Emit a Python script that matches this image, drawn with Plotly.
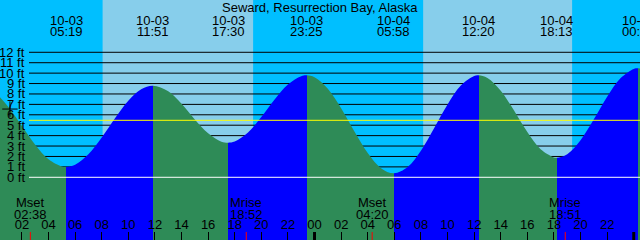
import plotly.graph_objects as go

TITLE = "Seward, Resurrection Bay, Alaska"

# Tide extremes (local time)
EXTREME_DATES = ["10-03", "10-03", "10-03", "10-03", "10-04", "10-04", "10-04", "10-05"]
EXTREME_CLOCKS = ["05:19", "11:51", "17:30", "23:25", "05:58", "12:20", "18:13", "00:21"]
EXTREME_FT = [1.0, 8.79, 3.32, 9.79, 0.38, 9.79, 1.88, 10.46]
EXTREME_KIND = ["L", "H", "L", "H", "L", "H", "L", "H"]

# Hourly tide heights (hours since 10-03 00:00)
CURVE_HOURS = list(range(0, 49)) + [48.6]
CURVE_FT = [8.17, 6.73, 4.92, 3.13, 1.73, 1.04, 1.21, 2.21, 3.82, 5.67,
            7.35, 8.47, 8.78, 8.25, 7.05, 5.56, 4.22, 3.42, 3.43, 4.29,
            5.78, 7.47, 8.92, 9.71, 9.61, 8.50, 6.62, 4.39, 2.33, 0.88,
            0.38, 0.98, 2.56, 4.74, 7.00, 8.81, 9.73, 9.54, 8.32, 6.41,
            4.34, 2.69, 1.91, 2.22, 3.56, 5.57, 7.73, 9.50, 10.40, 10.42]

# Moon events
MOON_DATES = ["10-03", "10-03", "10-04", "10-04"]
MOON_KIND = ["Mset", "Mrise", "Mset", "Mrise"]
MOON_CLOCKS = ["02:38", "18:52", "04:20", "18:51"]

# Daylight
SUN_DATES = ["10-03", "10-04"]
SUNRISE = ["08:04", "08:10"]
SUNSET = ["19:23", "19:22"]

MEAN_LEVEL_FT = 5.47
NOW_T, NOW_FT = 1.1, 6.55

Y_TICKS = list(range(0, 13))
Y_LABELS = [f"{v} ft" for v in Y_TICKS]
X_TICKS = list(range(2, 49, 2))
X_LABELS = [f"{h % 24:02d}" for h in X_TICKS]
MIDNIGHTS = [24, 48]

X_RANGE = [0.353, 48.47]
Y_RANGE = [-6.02, 17.02]

DAY0 = {"10-03": 0, "10-04": 24, "10-05": 48}


def hours(date, clock):
    hh, mm = clock.split(":")
    return DAY0[date] + int(hh) + int(mm) / 60.0


ext_t = [hours(d, c) for d, c in zip(EXTREME_DATES, EXTREME_CLOCKS)]
moon_t = [hours(d, c) for d, c in zip(MOON_DATES, MOON_CLOCKS)]
rise_t = [hours(d, c) for d, c in zip(SUN_DATES, SUNRISE)]
set_t = [hours(d, c) for d, c in zip(SUN_DATES, SUNSET)]

pts = [(t, h) for t, h in zip(CURVE_HOURS, CURVE_FT)
       if all(abs(t - e) > 0.2 for e in ext_t)]
pts += list(zip(ext_t, EXTREME_FT))
pts.sort()
xs = [p[0] for p in pts]
ys = [p[1] for p in pts]

GREEN = "#2E8B57"
BLUE = "#0000FF"
t0, t1 = xs[0], xs[-1]
scale = []
prev = 0.0
color = GREEN  # falling before first low
for t, kind in zip(ext_t, EXTREME_KIND):
    p = (t - t0) / (t1 - t0)
    scale.append([prev, color])
    scale.append([p, color])
    color = BLUE if kind == "L" else GREEN
    prev = p
scale.append([prev, color])
scale.append([1.0, color])

fig = go.Figure()
fig.add_trace(go.Scatter(x=[t0, t1], y=[Y_RANGE[0] - 1, Y_RANGE[0] - 1], mode="lines",
                         line=dict(width=0), hoverinfo="skip", showlegend=False))
fig.add_trace(go.Scatter(x=xs, y=ys, mode="lines", line=dict(width=0, shape="spline"),
                         fill="tonexty",
                         fillgradient=dict(type="horizontal", colorscale=scale,
                                           start=t0, stop=t1),
                         hoverinfo="skip", showlegend=False))
fig.add_trace(go.Scatter(x=[NOW_T], y=[NOW_FT], mode="markers",
                         marker=dict(symbol="cross-thin", size=11,
                                     line=dict(color="black", width=1)),
                         hoverinfo="skip", showlegend=False))

shapes = []
for r, s in zip(rise_t, set_t):
    shapes.append(dict(type="rect", xref="x", yref="paper", x0=r, x1=s, y0=0, y1=1,
                       fillcolor="#87CEEB", line=dict(width=0), layer="below"))
GX0 = 29 / 640
for v in Y_TICKS[1:]:
    shapes.append(dict(type="line", xref="paper", yref="y", x0=GX0, x1=1, y0=v, y1=v,
                       line=dict(color="black", width=1), layer="below"))
shapes.append(dict(type="line", xref="paper", yref="y", x0=GX0, x1=1, y0=0, y1=0,
                   line=dict(color="white", width=1), layer="above"))
shapes.append(dict(type="line", xref="paper", yref="y", x0=GX0, x1=1,
                   y0=MEAN_LEVEL_FT, y1=MEAN_LEVEL_FT,
                   line=dict(color="#FFFF00", width=1), layer="above"))
for t in moon_t:
    shapes.append(dict(type="line", xref="x", yref="paper", x0=t, x1=t, y0=0, y1=8 / 240,
                       line=dict(color="red", width=1), layer="above"))
for t in MIDNIGHTS:
    shapes.append(dict(type="line", xref="x", yref="paper", x0=t, x1=t, y0=0, y1=8 / 240,
                       line=dict(color="black", width=3), layer="above"))

FONT = dict(family="Liberation Sans, Arial, sans-serif", size=13, color="black")
ann = []
ann.append(dict(text=TITLE, xref="paper", yref="paper", x=0.5, y=1 - 7 / 240,
                xanchor="center", yanchor="middle", showarrow=False, font=FONT))
for t, d, c in zip(ext_t, EXTREME_DATES, EXTREME_CLOCKS):
    ann.append(dict(text=d, xref="x", yref="paper", x=t, y=1 - 20 / 240,
                    xanchor="center", yanchor="middle", showarrow=False, font=FONT))
    ann.append(dict(text=c, xref="x", yref="paper", x=t, y=1 - 32 / 240,
                    xanchor="center", yanchor="middle", showarrow=False, font=FONT))
for t, k, c in zip(moon_t, MOON_KIND, MOON_CLOCKS):
    ann.append(dict(text=k, xref="x", yref="paper", x=t, y=1 - 202 / 240,
                    xanchor="center", yanchor="middle", showarrow=False, font=FONT))
    ann.append(dict(text=c, xref="x", yref="paper", x=t, y=1 - 214 / 240,
                    xanchor="center", yanchor="middle", showarrow=False, font=FONT))
for v, lab in zip(Y_TICKS, Y_LABELS):
    ann.append(dict(text=lab, xref="paper", yref="y", x=27 / 640, y=v,
                    xanchor="right", yanchor="middle", showarrow=False, font=FONT))

fig.update_layout(
    width=640, height=240,
    margin=dict(l=0, r=0, t=0, b=0),
    plot_bgcolor="#00BFFF", paper_bgcolor="#00BFFF",
    shapes=shapes, annotations=ann, showlegend=False,
    font=FONT,
    xaxis=dict(range=X_RANGE, showgrid=False, zeroline=False, showline=False,
               tickmode="array", tickvals=X_TICKS, ticktext=X_LABELS,
               ticks="inside", ticklen=8, tickwidth=1, tickcolor="black",
               ticklabelposition="inside", tickfont=FONT, fixedrange=True),
    yaxis=dict(range=Y_RANGE, showgrid=False, zeroline=False, showline=False,
               showticklabels=False, ticks="", fixedrange=True),
)

fig.write_html("out.html", config={"displayModeBar": False})
